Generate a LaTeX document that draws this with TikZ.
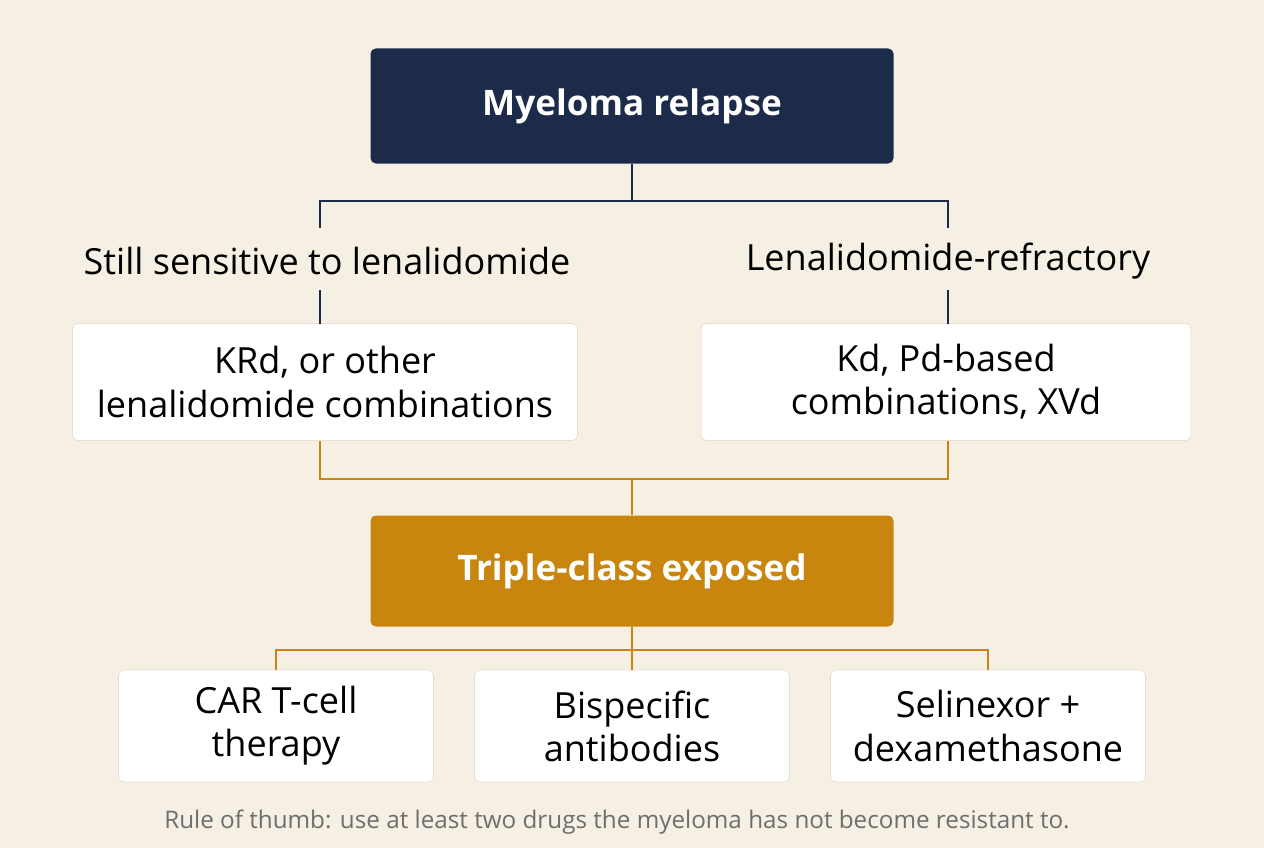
\documentclass[tikz,border=0pt]{standalone}
\usepackage{fontspec}
\setmainfont{Open Sans}
\usetikzlibrary{positioning,calc}
\definecolor{MyNavy}{HTML}{1C2B4A}
\definecolor{MyGold}{HTML}{C8860F}
\definecolor{MyBg}{HTML}{F6F0E4}
\definecolor{MyEdge}{HTML}{E6DFCF}
\definecolor{MyGrey}{HTML}{6E6E6E}

\begin{document}
\begin{tikzpicture}[x=0.02cm,y=-0.02cm,
			every node/.style={align=center,rectangle,font=\fontsize{20.5}{24.5}\selectfont},
			head/.style={rounded corners=3pt,minimum width=523*0.02cm,minimum height=115*0.02cm,text=white,font=\fontsize{20}{24}\selectfont\bfseries},
			opt/.style={draw=MyEdge,fill=white,rounded corners=3pt,minimum height=117*0.02cm},
			leaf/.style={opt,minimum width=315*0.02cm,minimum height=112*0.02cm},
			navyline/.style={draw=MyNavy,line width=1.2pt},
			goldline/.style={draw=MyGold,line width=1.2pt}
		]
		\fill[MyBg] (0,0) rectangle (1264,848);

		\node [head,fill=MyNavy] (relapse) at (632,106) {Myeloma relapse};
		\node (sens) at (327,261) {Still sensitive to lenalidomide};
		\node (refr) at (948,261) {Lenalidomide-refractory};
		\node [opt,minimum width=505*0.02cm] (krd) at (325,382) {KRd, or other\\lenalidomide combinations};
		\node [opt,minimum width=490*0.02cm] (kd) at (946,382) {Kd, Pd-based\\combinations, XVd};
		\node [head,fill=MyGold,minimum height=111*0.02cm] (triple) at (632,571) {Triple-class exposed};
		\node [leaf] (car) at (276,726) {CAR T-cell\\therapy};
		\node [leaf] (bisp) at (632,726) {Bispecific\\antibodies};
		\node [leaf] (seli) at (988,726) {Selinexor +\\dexamethasone};
		\node [font=\fontsize{13.8}{16}\selectfont,text=MyGrey] (rule) at (617,822) {Rule of thumb: use at least two drugs the myeloma has not become resistant to.};

		\coordinate (sl) at (320,228);
		\coordinate (sr) at (948,228);
		\coordinate (kl) at (320,441);
		\coordinate (kr) at (948,441);
		\path[navyline] (relapse.south) -- ++(0,37) -| (sl);
		\path[navyline] (relapse.south) -- ++(0,37) -| (sr);
		\path[navyline] (320,290) -- (320,324);
		\path[navyline] (948,290) -- (948,324);
		\path[goldline] (kl) -- (320,479) -| (kr);
		\path[goldline] (632,479) -- (triple.north);
		\path[goldline] (triple.south) -- ++(0,23) -| (car.north);
		\path[goldline] (triple.south) -- ++(0,23) -| (seli.north);
		\path[goldline] (triple.south) -- (bisp.north);
\end{tikzpicture}
\end{document}
